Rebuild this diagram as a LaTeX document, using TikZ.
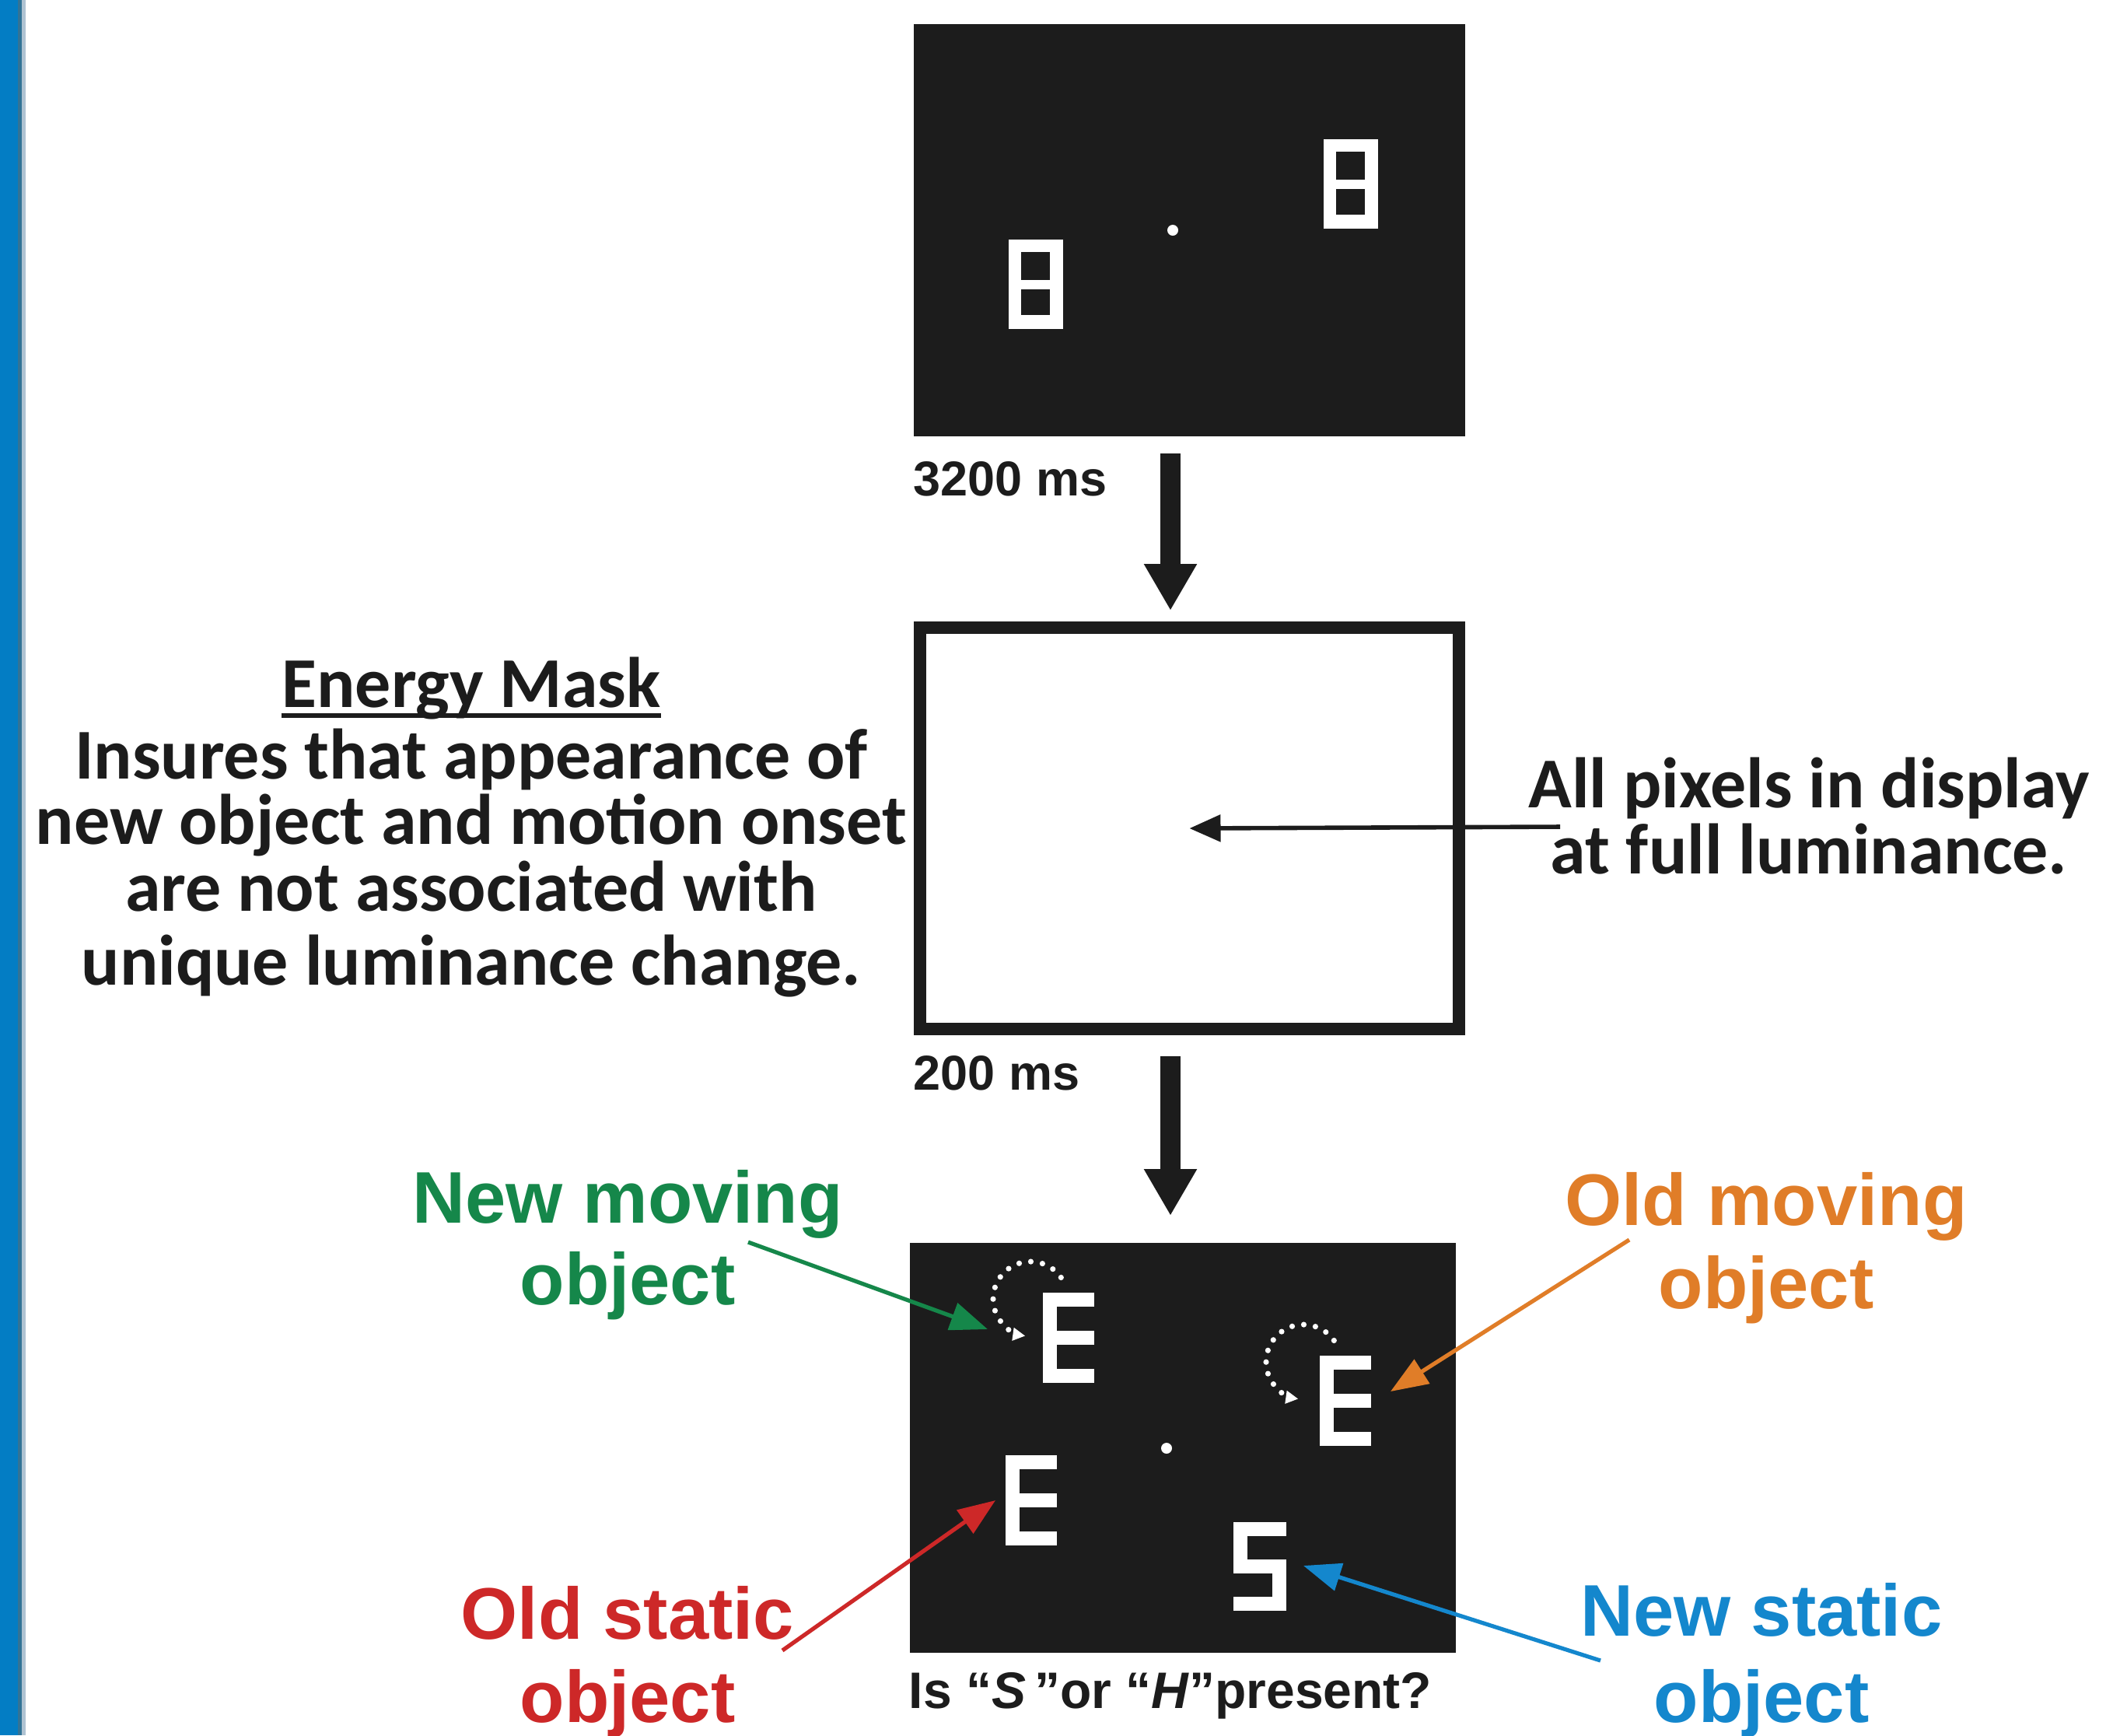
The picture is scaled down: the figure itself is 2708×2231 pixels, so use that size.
\documentclass[tikz,border=0pt]{standalone}
\usepackage{fontspec}
\setmainfont{Liberation Sans}
\newfontfamily\calfont{Carlito}
\usetikzlibrary{arrows.meta,calc}
\definecolor{scr}{HTML}{1C1C1C}
\definecolor{barblue}{RGB}{3,125,196}
\definecolor{bardark}{RGB}{50,115,150}
\definecolor{barlight}{RGB}{175,195,210}
\definecolor{cgreen}{HTML}{15874A}
\definecolor{corange}{HTML}{E07D28}
\definecolor{cred}{HTML}{CD2828}
\definecolor{cblue}{HTML}{1487CD}
\newcommand\EGlyph[2]{%
  \fill[white] (#1,#2) rectangle ++(18,116);
  \fill[white] (#1,#2) rectangle ++(66,18);
  \fill[white] (#1,#2+49) rectangle ++(66,18);
  \fill[white] (#1,#2+98) rectangle ++(66,18);}
\newcommand\SGlyph[2]{%
  \fill[white] (#1,#2) rectangle ++(68,18);
  \fill[white] (#1,#2) rectangle ++(18,66);
  \fill[white] (#1,#2+48) rectangle ++(68,18);
  \fill[white] (#1+50,#2+48) rectangle ++(18,66);
  \fill[white] (#1,#2+96) rectangle ++(68,18);}
\newcommand\EightGlyph[2]{%
  \fill[white] (#1,#2) rectangle ++(70,115);
  \fill[scr] (#1+16,#2+16) rectangle ++(37,36);
  \fill[scr] (#1+16,#2+64) rectangle ++(37,33);}
\begin{document}
\begin{tikzpicture}[x=0.25pt,y=-0.25pt,
  screen/.style={fill=scr, draw=none, inner sep=0pt, outer sep=0pt},
  bigarrow/.style={line width=6.5pt, draw=scr, -{Triangle[length=15pt,width=16pt]}},
  thinarrow/.style={line width=1.4pt, draw=scr, -{Triangle[length=10pt,width=8.5pt]}},
  carrow/.style={line width=1.3pt, -{Triangle[length=12pt,width=9pt]}},
  caltext/.style={font=\calfont\bfseries\fontsize{23pt}{23pt}\selectfont, inner sep=0pt, anchor=base, text=scr},
  lab/.style={font=\bfseries\fontsize{23.5pt}{23.5pt}\selectfont, inner sep=0pt, anchor=base},
  ms/.style={font=\bfseries\fontsize{15.75pt}{15.75pt}\selectfont, inner sep=0pt, anchor=base west, text=scr},
  dotarc/.style={white, line width=1.8pt, line cap=round, dash pattern=on 0pt off 3.8pt, -{Triangle[length=4pt,width=4pt]}},
]
\useasboundingbox (0,0) rectangle (2708,2231);
\fill[white] (0,0) rectangle (2708,2231);
\fill[barblue] (0,0) rectangle (23,2231);
\fill[bardark] (23,0) rectangle (28,2231);
\fill[barlight] (28,0) rectangle (33,2231);

% screens
\node[screen, minimum width=177.25pt, minimum height=132.5pt] (top) at (1529.5,296) {};
\node[draw=scr, fill=white, line width=4pt, inner sep=0pt, minimum width=173.25pt, minimum height=129pt] (mid) at (1529.5,1065) {};
\node[screen, minimum width=175.5pt, minimum height=131.75pt] (bot) at (1521,1861.5) {};

% first display
\EightGlyph{1297}{308}
\EightGlyph{1702}{179}
\fill[white] (1508,296) circle[radius=1.75pt];

% test display
\EGlyph{1341}{1662}
\EGlyph{1697}{1743}
\EGlyph{1293}{1871}
\SGlyph{1586}{1957}
\fill[white] (1500,1862) circle[radius=1.75pt];
\coordinate (c1) at (1325,1670);
\coordinate (c2) at (1676,1751);
\draw[dotarc] ([shift={(35:12pt)}]c1) arc[start angle=35, end angle=262, radius=12pt];
\draw[dotarc] ([shift={(35:12pt)}]c2) arc[start angle=35, end angle=262, radius=12pt];

% time labels
\node[ms] (t1) at (1174,637) {3200 ms};
\node[ms] (t2) at (1174,1401) {200 ms};

% flow arrows
\draw[bigarrow] ($(top.south)+(-24.5,22)$) -- ($(mid.north)+(-24.5,-14)$);
\draw[bigarrow] ($(mid.south)+(-24.5,27)$) -- ($(bot.north)+(-16,-35)$);

% luminance arrow
\coordinate (lumstart) at (2006,1063);
\draw[thinarrow] (lumstart) -- (mid.center);
\node[caltext] (lum1) at (2326,1038) {All pixels in display};
\node[caltext] (lum2) at (2326,1123) {at full luminance.};

% energy mask text
\node[caltext] (em) at (606,909) {Energy Mask};
\draw[scr, line width=1.5pt] ($(em.base west)+(0,11)$) -- ($(em.base east)+(0,11)$);
\node[caltext] (e1) at (606,1001) {Insures that appearance of};
\node[caltext] (e2) at (606,1085) {new object and motion onset};
\node[caltext] (e3) at (606,1171) {are not associated with};
\node[caltext] (e4) at (606,1266) {unique luminance change.};

% colored labels
\node[lab, text=cgreen] (nm1) at (807,1572) {New moving};
\node[lab, text=cgreen] (nm2) at (807,1677) {object};
\node[lab, text=cred] (os1) at (807,2107) {Old static};
\node[lab, text=cred] (os2) at (807,2214) {object};
\node[lab, text=corange] (om1) at (2271,1575) {Old moving};
\node[lab, text=corange] (om2) at (2271,1682) {object};
\node[lab, text=cblue] (ns1) at (2265,2103) {New static};
\node[lab, text=cblue] (ns2) at (2265,2214) {object};

\coordinate (gS) at (962,1597);  \coordinate (gT) at (1270,1709);
\coordinate (oS) at (2095,1594); \coordinate (oT) at (1788,1789);
\coordinate (rS) at (1006,2122); \coordinate (rT) at (1280,1929);
\coordinate (bS) at (2058,2135); \coordinate (bT) at (1676,2013);
\draw[carrow, cgreen] (gS) -- (gT);
\draw[carrow, corange] (oS) -- (oT);
\draw[carrow, cred] (rS) -- (rT);
\draw[carrow, cblue] (bS) -- (bT);

% question
\node[ms, font=\bfseries\fontsize{16.5pt}{16.5pt}\selectfont] (q) at (1168,2196) {Is “\textit{S}\,”or “\textit{H}”present?};
\end{tikzpicture}
\end{document}
